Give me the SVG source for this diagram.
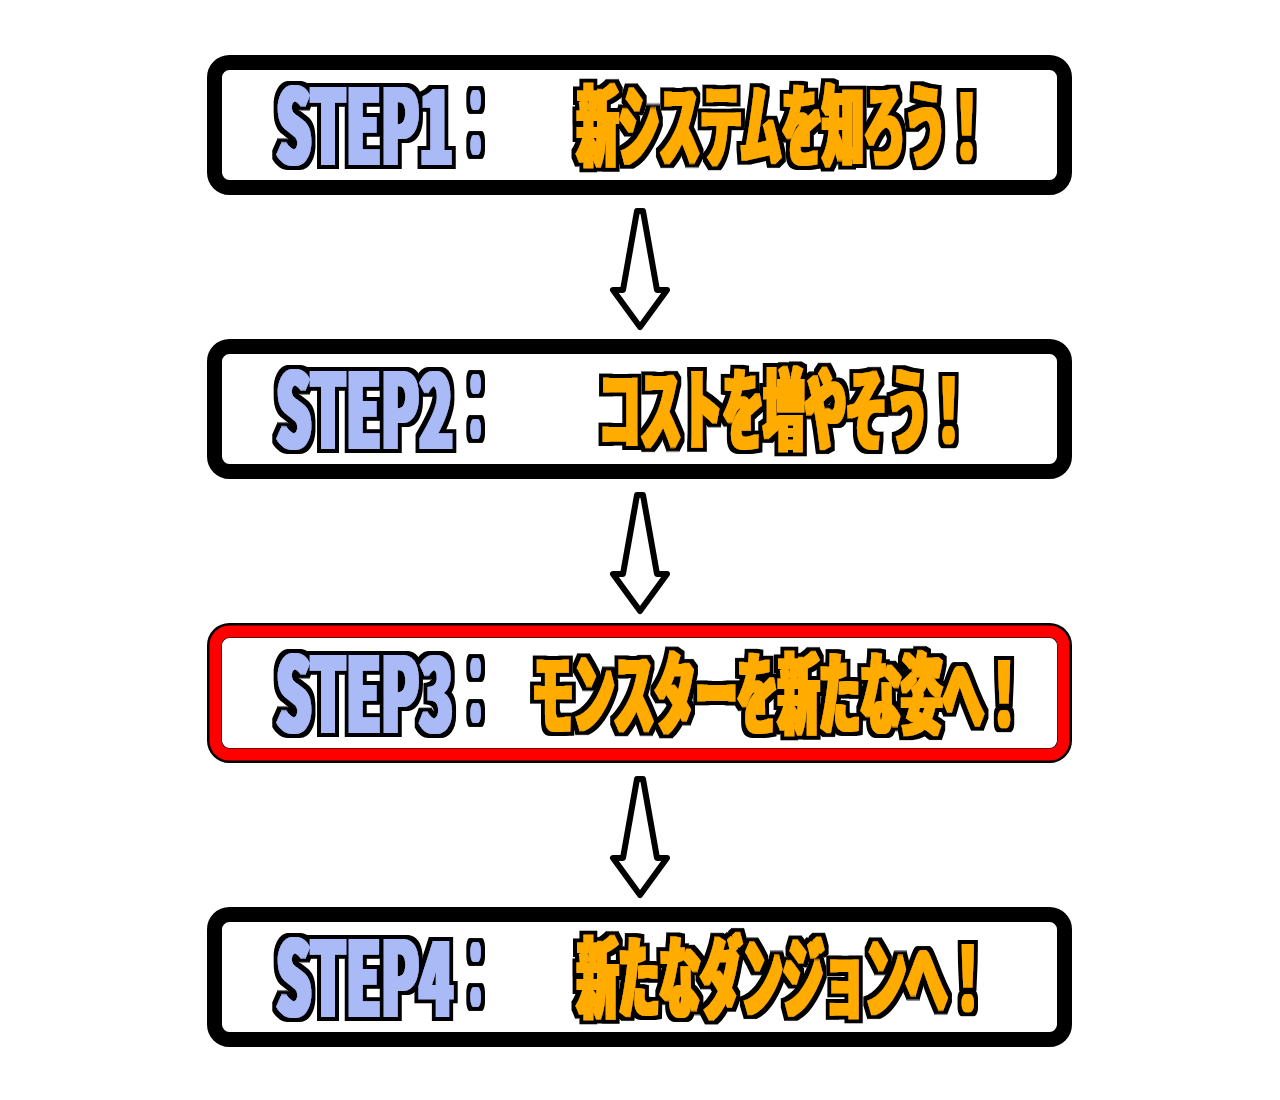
<svg xmlns="http://www.w3.org/2000/svg" width="1280" height="1100" viewBox="0 0 1280 1100">
<defs>
<style>
.box{fill:#fff;stroke:#000;stroke-width:15}
.step{font-family:"Noto Sans CJK JP","Liberation Sans",sans-serif;font-weight:900;font-size:105px;fill:#aabaf7}
.colon{font-family:"Noto Sans CJK JP",sans-serif;font-weight:900;font-size:95px;fill:#aabaf7}
.jp{font-family:"Noto Sans CJK JP",sans-serif;font-weight:900;font-size:90px;fill:#ffab00}
.arrow{fill:#fff;stroke:#000;stroke-width:6;stroke-linejoin:round}
</style>
<filter id="ol" x="-10%" y="-20%" width="120%" height="140%">
<feMorphology in="SourceGraphic" operator="dilate" radius="1.5 0" result="thick"/>
<feMorphology in="thick" operator="dilate" radius="3.8" result="big"/>
<feFlood flood-color="#000"/>
<feComposite in2="big" operator="in" result="outline"/>
<feMerge><feMergeNode in="outline"/><feMergeNode in="thick"/></feMerge>
</filter>
<path id="arr" class="arrow" d="M637,211 L643,211 L657,290 L667,290 L640,327 L613,290 L623,290 Z"/>
</defs>
<rect width="1280" height="1100" fill="#fff"/>

<g id="connectors">
<use href="#arr"/>
<use href="#arr" y="284"/>
<use href="#arr" y="568"/>
</g>

<g id="step1">
<rect class="box" x="214.5" y="62.5" width="850" height="125" rx="15"/>
<g filter="url(#ol)">
<text class="step" transform="translate(276,165) scale(0.53,1)">STEP1</text>
<text class="colon" transform="translate(460,158) scale(0.33,1)">：</text>
<text class="jp" transform="translate(577,159) scale(0.457,1)">新システムを知ろう！</text>
</g>
</g>

<g id="step2">
<rect class="box" x="214.5" y="346.5" width="850" height="125" rx="15"/>
<g filter="url(#ol)">
<text class="step" transform="translate(276,449) scale(0.53,1)">STEP2</text>
<text class="colon" transform="translate(460,442) scale(0.33,1)">：</text>
<text class="jp" transform="translate(599,443) scale(0.457,1)">コストを増やそう！</text>
</g>
</g>

<g id="step3">
<rect x="214.5" y="630.5" width="850" height="125" rx="15" fill="#fff" stroke="#000" stroke-width="15"/>
<rect x="215.5" y="631.5" width="848" height="123" rx="14" fill="none" stroke="#ff0000" stroke-width="12"/>
<g filter="url(#ol)">
<text class="step" transform="translate(276,733) scale(0.53,1)">STEP3</text>
<text class="colon" transform="translate(460,726) scale(0.33,1)">：</text>
<text class="jp" transform="translate(532,727) scale(0.457,1)">モンスターを新たな姿へ！</text>
</g>
</g>

<g id="step4">
<rect class="box" x="214.5" y="914.5" width="850" height="125" rx="15"/>
<g filter="url(#ol)">
<text class="step" transform="translate(276,1017) scale(0.53,1)">STEP4</text>
<text class="colon" transform="translate(460,1010) scale(0.33,1)">：</text>
<text class="jp" transform="translate(577,1011) scale(0.457,1)">新たなダンジョンへ！</text>
</g>
</g>
</svg>
